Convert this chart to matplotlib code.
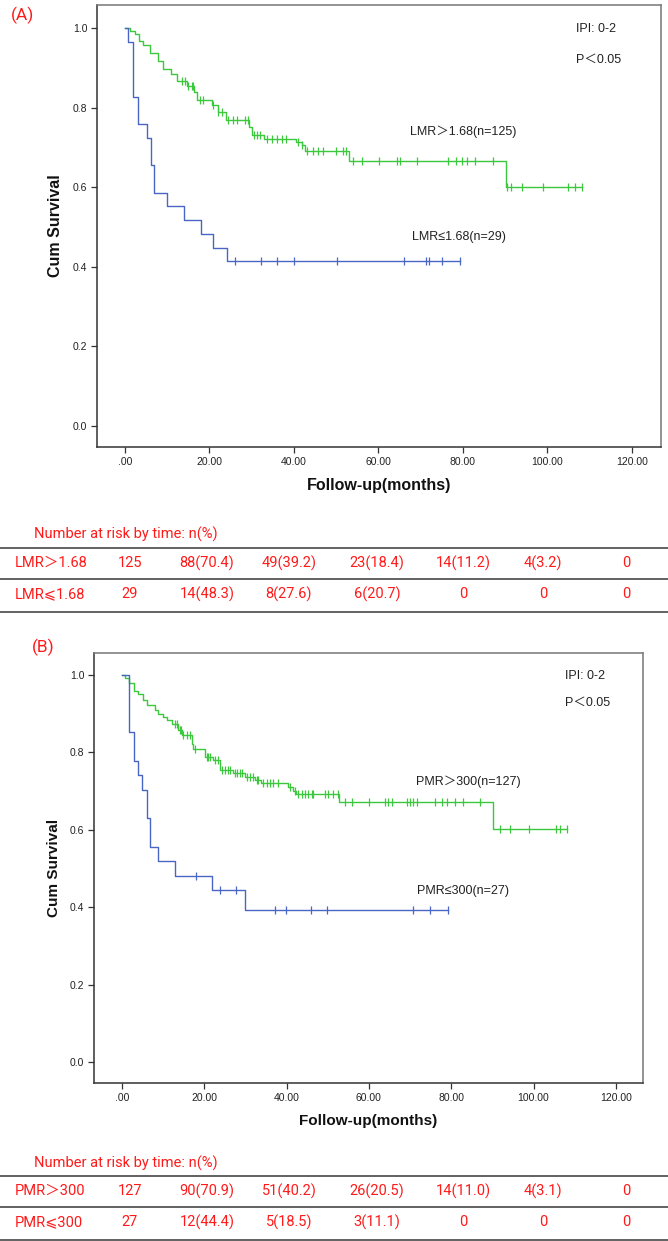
import numpy as np
import matplotlib
matplotlib.use("Agg")
import matplotlib.pyplot as plt
from matplotlib.lines import Line2D

W, H = 668, 1241

# ---------------- data ----------------
# Panel A
green_a_t = [0, 1.2, 2.3, 3.4, 4.3, 5.8, 7.8, 9.0, 11.0, 12.4, 14.6, 16.3, 17.0, 20.5, 22.0,
             24.0, 29.4, 30.0, 32.8, 40.4, 41.8, 42.6, 53.0, 90.1]
green_a_s = [1.0, 0.992, 0.984, 0.968, 0.958, 0.937, 0.917, 0.897, 0.885, 0.868, 0.854, 0.839,
             0.819, 0.806, 0.789, 0.768, 0.752, 0.731, 0.722, 0.713, 0.706, 0.691, 0.666, 0.601]
green_a_c = [13.4, 14.2, 15.0, 15.8, 16.2, 17.7, 18.5, 20.9, 22.1, 22.9, 24.4, 25.6, 26.4, 28.4,
             29.2, 30.5, 31.2, 32.0, 33.6, 34.8, 36.0, 37.2, 38.0, 40.9, 41.9, 43.2, 44.4, 45.6,
             46.8, 50.0, 51.7, 52.3, 54.0, 56.0, 60.2, 64.3, 65.1, 69.2, 76.5, 78.3, 79.7, 81.0,
             82.8, 87.2, 90.4, 91.5, 94.1, 99.0, 104.9, 106.5, 108.3]
blue_a_t = [0, 0.8, 2.0, 3.0, 5.1, 6.2, 6.9, 9.9, 13.9, 18.0, 20.9, 24.1]
blue_a_s = [1.0, 0.966, 0.828, 0.759, 0.724, 0.655, 0.586, 0.552, 0.517, 0.483, 0.448, 0.414]
blue_a_c = [26.0, 32.1, 36.0, 40.0, 50.1, 66.0, 71.2, 71.9, 75.1, 79.3]

# Panel B
green_b_t = [0, 0.7, 1.8, 2.8, 4.0, 5.2, 6.0, 8.0, 8.8, 10.0, 10.9, 12.1, 13.7, 14.5, 16.9, 17.3,
             20.2, 22.2, 23.8, 27.0, 29.9, 32.3, 33.9, 40.4, 41.6, 42.4, 52.8, 90.1]
green_b_s = [1.0, 0.992, 0.979, 0.960, 0.952, 0.936, 0.922, 0.909, 0.900, 0.892, 0.885, 0.874,
             0.858, 0.845, 0.823, 0.810, 0.789, 0.780, 0.754, 0.746, 0.737, 0.729, 0.721, 0.711,
             0.700, 0.692, 0.672, 0.602]
green_b_c = [12.9, 13.3, 14.1, 14.4, 14.9, 15.7, 16.5, 17.7, 20.6, 21.0, 21.4, 22.6, 23.4, 24.2,
             25.0, 25.8, 26.2, 27.5, 27.9, 28.7, 29.1, 30.3, 31.1, 31.9, 32.7, 33.1, 34.3, 35.2,
             36.0, 36.8, 38.0, 40.8, 42.0, 42.8, 43.7, 44.5, 45.3, 46.1, 46.5, 49.3, 50.1, 51.3,
             52.6, 54.2, 55.8, 59.9, 63.9, 64.7, 65.6, 69.2, 70.0, 70.8, 71.6, 76.1, 77.7, 78.9,
             80.9, 82.9, 87.0, 91.9, 94.3, 99.0, 105.5, 106.4, 108.1]
blue_b_t = [0, 1.6, 2.8, 3.8, 4.9, 6.0, 6.8, 8.8, 12.9, 21.8, 29.9]
blue_b_s = [1.0, 0.852, 0.778, 0.741, 0.704, 0.630, 0.556, 0.519, 0.481, 0.444, 0.392]
blue_b_c = [18.1, 23.9, 27.8, 37.1, 39.9, 45.9, 49.9, 70.8, 74.9, 79.1]

x_ticks = [0, 20, 40, 60, 80, 100, 120]
x_tick_labels = [".00", "20.00", "40.00", "60.00", "80.00", "100.00", "120.00"]
y_ticks = [0.0, 0.2, 0.4, 0.6, 0.8, 1.0]
y_tick_labels = ["0.0", "0.2", "0.4", "0.6", "0.8", "1.0"]

labels_a = ["LMR\uff1e1.68(n=125)", "LMR\u22641.68(n=29)"]
labels_b = ["PMR\uff1e300(n=127)", "PMR\u2264300(n=27)"]

risk_header = "Number at risk by time: n(%)"
risk_a_names = ["LMR\uff1e1.68", "LMR\u2a7d1.68"]
risk_a_vals = [["125", "88(70.4)", "49(39.2)", "23(18.4)", "14(11.2)", "4(3.2)", "0"],
               ["29", "14(48.3)", "8(27.6)", "6(20.7)", "0", "0", "0"]]
risk_b_names = ["PMR\uff1e300", "PMR\u2a7d300"]
risk_b_vals = [["127", "90(70.9)", "51(40.2)", "26(20.5)", "14(11.0)", "4(3.1)", "0"],
               ["27", "12(44.4)", "5(18.5)", "3(11.1)", "0", "0", "0"]]

# ---------------- style ----------------
GREEN = "#3cc83c"
BLUE = "#4a66c4"
RED = "#ff1a1a"
TXT = "#222222"
SANS = ["Liberation Sans", "Noto Sans CJK SC", "DejaVu Sans"]
TABF = ["Roboto", "Noto Sans CJK SC", "DejaVu Sans"]
TFS = 10.5

fig = plt.figure(figsize=(W / 100, H / 100), dpi=100)


def fx(x):
    return x / W


def fy(y):
    return 1 - y / H


def surv_at(t_list, s_list, c):
    idx = np.searchsorted(np.asarray(t_list), np.asarray(c), side="right") - 1
    return np.asarray(s_list)[idx]


def km_panel(rect, xlim, ylim, curves, labels, label_pos, info_pos, fs_lab, ylab_x):
    l, r, t, b = rect
    ax = fig.add_axes([fx(l), fy(b), fx(r) - fx(l), fy(t) - fy(b)])
    for (tt, ss, cc, col) in curves:
        end = max(max(cc), tt[-1])
        ax.step(list(tt) + [end], list(ss) + [ss[-1]], where="post", color=col, lw=1.0)
        ax.plot(cc, surv_at(tt, ss, cc), ls="none", marker="|", ms=6, mew=0.9, color=col)
    ax.set_xlim(*xlim)
    ax.set_ylim(*ylim)
    ax.set_xticks(x_ticks)
    ax.set_xticklabels(x_tick_labels)
    ax.set_yticks(y_ticks)
    ax.set_yticklabels(y_tick_labels)
    ax.tick_params(axis="both", direction="out", length=4, width=0.9, colors="#333333",
                   labelsize=7.5, pad=3)
    for lab in ax.get_xticklabels() + ax.get_yticklabels():
        lab.set_fontfamily(SANS)
        lab.set_color(TXT)
    for sp in ["left", "bottom"]:
        ax.spines[sp].set_color("#333333")
        ax.spines[sp].set_linewidth(1.1)
    for sp in ["top", "right"]:
        ax.spines[sp].set_color("#777777")
        ax.spines[sp].set_linewidth(1.1)
    ax.set_xlabel("Follow-up(months)", fontsize=fs_lab, fontweight="bold",
                  family=SANS, color="#111111", labelpad=8)
    ax.set_ylabel("Cum Survival", fontsize=fs_lab, fontweight="bold",
                  family=SANS, color="#111111")
    ax.yaxis.set_label_coords((ylab_x - l) / (r - l), 0.5)
    for lab, (px, py) in zip(labels, label_pos):
        fig.text(fx(px), fy(py), lab, fontsize=9, family=SANS, color=TXT,
                 ha="left", va="center")
    fig.text(fx(info_pos[0]), fy(info_pos[1]), "IPI: 0-2", fontsize=9, family=SANS,
             color=TXT, ha="left", va="center")
    fig.text(fx(info_pos[0]), fy(info_pos[2]), "P\uff1c0.05", fontsize=9, family=SANS,
             color=TXT, ha="left", va="center")
    return ax


def risk_table(y_head, y_lines, y_rows, names, vals):
    col_x = [130, 207, 289, 377, 463, 543, 626]
    fig.text(fx(34), fy(y_head), risk_header, fontsize=TFS, family=TABF, color=RED,
             ha="left", va="center")
    for yl in y_lines:
        fig.add_artist(Line2D([0, 1], [fy(yl), fy(yl)], transform=fig.transFigure,
                              color="#555555", lw=1.3))
    for yr, nm, row in zip(y_rows, names, vals):
        fig.text(fx(15), fy(yr), nm, fontsize=TFS, family=TABF, color=RED,
                 ha="left", va="center")
        for cx, v in zip(col_x, row):
            fig.text(fx(cx), fy(yr), v, fontsize=TFS, family=TABF, color=RED,
                     ha="center", va="center")


# Panel A
km_panel((97, 661, 5, 447), (-6.63, 126.9), (-0.053, 1.058),
         [(green_a_t, green_a_s, green_a_c, GREEN), (blue_a_t, blue_a_s, blue_a_c, BLUE)],
         labels_a, [(410, 132), (412, 237)], (576, 29, 60), 11.5, 63)
fig.text(fx(11), fy(15), "(A)", fontsize=12.5, family=TABF, color=RED, ha="left", va="center")
risk_table(534, [548, 579, 612], [563, 594], risk_a_names, risk_a_vals)

# Panel B
km_panel((94, 643, 653, 1083), (-6.8, 126.6), (-0.054, 1.057),
         [(green_b_t, green_b_s, green_b_c, GREEN), (blue_b_t, blue_b_s, blue_b_c, BLUE)],
         labels_b, [(416, 782), (417, 891)], (565, 676, 703), 11, 61)
fig.text(fx(32), fy(647), "(B)", fontsize=12.5, family=TABF, color=RED, ha="left", va="center")
risk_table(1163, [1176, 1207, 1240], [1191, 1222], risk_b_names, risk_b_vals)

fig.savefig("out.png", dpi=100)
